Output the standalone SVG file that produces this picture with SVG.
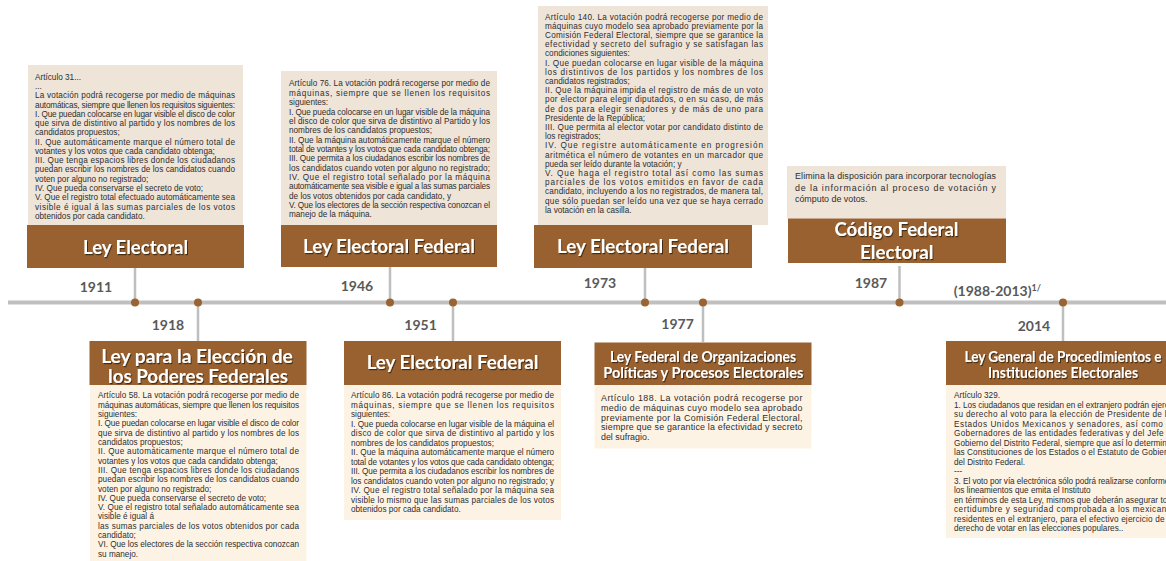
<svg xmlns="http://www.w3.org/2000/svg" width="1166" height="561" viewBox="0 0 1166 561">
  <defs>
    <filter id="ts" x="-10%" y="-40%" width="120%" height="180%">
      <feDropShadow dx="1" dy="1.2" stdDeviation="0.7" flood-color="#000" flood-opacity="0.55"/>
    </filter>
    <style>
      .pt { fill: #eee4d8; }
      .pb { fill: #fdf3e4; }
      .bar { fill: #98612f; }
      .title { font-family: Lato, "Open Sans", sans-serif; font-weight: 700; fill: #ffffff; text-anchor: middle; filter: url(#ts); }
      .year { font-family: Lato, "Open Sans", sans-serif; font-weight: 700; font-size: 14px; fill: #595959; text-anchor: middle; }
      .body { font-family: "Liberation Sans", Arial, sans-serif; font-size: 8.2px; fill: #2e2e2e; }
      .big { font-size: 8.9px; }
      .axis { stroke: #bfbfbf; stroke-width: 4; }
      .stem { stroke: #bfbfbf; stroke-width: 2.5; }
      .dot { fill: #9a6333; }
    </style>
  </defs>

  <rect width="1166" height="561" fill="#ffffff"/>

  <!-- timeline axis, stems and markers -->
  <g id="connectors">
    <line class="axis" x1="8" y1="302.5" x2="1166" y2="302.5"/>
    <line class="stem" x1="135" y1="268" x2="135" y2="302"/>
    <line class="stem" x1="198" y1="302" x2="198" y2="341"/>
    <line class="stem" x1="390" y1="267" x2="390" y2="302"/>
    <line class="stem" x1="453" y1="302" x2="453" y2="341"/>
    <line class="stem" x1="645" y1="268" x2="645" y2="302"/>
    <line class="stem" x1="703" y1="302" x2="703" y2="342"/>
    <line class="stem" x1="899.5" y1="266" x2="899.5" y2="302"/>
    <line class="stem" x1="1063" y1="302" x2="1063" y2="341"/>
    <circle class="dot" cx="135" cy="302.5" r="4"/>
    <circle class="dot" cx="198" cy="302.5" r="4"/>
    <circle class="dot" cx="390" cy="302.5" r="4"/>
    <circle class="dot" cx="453" cy="302.5" r="4"/>
    <circle class="dot" cx="645" cy="302.5" r="4"/>
    <circle class="dot" cx="703" cy="302.5" r="4"/>
    <circle class="dot" cx="899.5" cy="302.5" r="4"/>
    <circle class="dot" cx="1063" cy="302.5" r="4"/>
  </g>

  <!-- 1911 -->
  <g id="n1911">
    <rect class="pt" x="28" y="65" width="215" height="160"/>
    <rect class="bar" x="27" y="225" width="217" height="43"/>
    <text class="title" x="135.5" y="253.5" font-size="18" textLength="105" lengthAdjust="spacingAndGlyphs">Ley Electoral</text>
    <text class="year" x="96" y="291.5">1911</text>
    <text class="body" x="35" y="79.7">Artículo 31...</text>
    <text class="body" x="35" y="89">...</text>
    <text class="body" x="35" y="98.2" textLength="200" lengthAdjust="spacing">La votación podrá recogerse por medio de máquinas</text>
    <text class="body" x="35" y="107.5" textLength="200" lengthAdjust="spacing">automáticas, siempre que llenen los requisitos siguientes:</text>
    <text class="body" x="35" y="116.8" textLength="200" lengthAdjust="spacing">I. Que puedan colocarse en lugar visible el disco de color</text>
    <text class="body" x="35" y="126.1" textLength="200" lengthAdjust="spacing">que sirva de distintivo al partido y los nombres de los</text>
    <text class="body" x="35" y="135.3">candidatos propuestos;</text>
    <text class="body" x="35" y="144.6" textLength="200" lengthAdjust="spacing">II. Que automáticamente marque el número total de</text>
    <text class="body" x="35" y="153.9">votantes y los votos que cada candidato obtenga;</text>
    <text class="body" x="35" y="163.1" textLength="200" lengthAdjust="spacing">III. Que tenga espacios libres donde los ciudadanos</text>
    <text class="body" x="35" y="172.4" textLength="200" lengthAdjust="spacing">puedan escribir los nombres de los candidatos cuando</text>
    <text class="body" x="35" y="181.7">voten por alguno no registrado;</text>
    <text class="body" x="35" y="190.9">IV. Que pueda conservarse el secreto de voto;</text>
    <text class="body" x="35" y="200.2" textLength="200" lengthAdjust="spacing">V. Que el registro total efectuado automáticamente sea</text>
    <text class="body" x="35" y="209.5" textLength="200" lengthAdjust="spacing">visible é igual á las sumas parciales de los votos</text>
    <text class="body" x="35" y="218.8">obtenidos por cada candidato.</text>
  </g>

  <!-- 1918 -->
  <g id="n1918">
    <rect class="bar" x="89.5" y="341" width="217" height="44"/>
    <rect class="pb" x="90" y="385" width="216.5" height="176"/>
    <text class="title" x="197" y="363" font-size="18" textLength="191.7" lengthAdjust="spacingAndGlyphs">Ley para la Elección de</text>
    <text class="title" x="198" y="383" font-size="18" textLength="180" lengthAdjust="spacingAndGlyphs">los Poderes Federales</text>
    <text class="year" x="168" y="330">1918</text>
    <text class="body" x="98" y="398.4" textLength="201" lengthAdjust="spacing">Artículo 58. La votación podrá recogerse por medio de</text>
    <text class="body" x="98" y="407.7" textLength="201" lengthAdjust="spacing">máquinas automáticas, siempre que llenen los requisitos</text>
    <text class="body" x="98" y="417">siguientes:</text>
    <text class="body" x="98" y="426.3" textLength="201" lengthAdjust="spacing">I. Que puedan colocarse en lugar visible el disco de color</text>
    <text class="body" x="98" y="435.6" textLength="201" lengthAdjust="spacing">que sirva de distintivo al partido y los nombres de los</text>
    <text class="body" x="98" y="444.9">candidatos propuestos;</text>
    <text class="body" x="98" y="454.3" textLength="201" lengthAdjust="spacing">II. Que automáticamente marque el número total de</text>
    <text class="body" x="98" y="463.6">votantes y los votos que cada candidato obtenga;</text>
    <text class="body" x="98" y="472.9" textLength="201" lengthAdjust="spacing">III. Que tenga espacios libres donde los ciudadanos</text>
    <text class="body" x="98" y="482.2" textLength="201" lengthAdjust="spacing">puedan escribir los nombres de los candidatos cuando</text>
    <text class="body" x="98" y="491.5">voten por alguno no registrado;</text>
    <text class="body" x="98" y="500.8">IV. Que pueda conservarse el secreto de voto;</text>
    <text class="body" x="98" y="510.1" textLength="201" lengthAdjust="spacing">V. Que el registro total señalado automáticamente sea</text>
    <text class="body" x="98" y="519.4">visible é igual á</text>
    <text class="body" x="98" y="528.7" textLength="201" lengthAdjust="spacing">las sumas parciales de los votos obtenidos por cada</text>
    <text class="body" x="98" y="538">candidato;</text>
    <text class="body" x="98" y="547.4" textLength="201" lengthAdjust="spacing">VI. Que los electores de la sección respectiva conozcan</text>
    <text class="body" x="98" y="556.7">su manejo.</text>
  </g>

  <!-- 1946 -->
  <g id="n1946">
    <rect class="pt" x="281" y="71" width="216" height="154"/>
    <rect class="bar" x="281" y="225" width="216" height="42"/>
    <text class="title" x="389" y="252.7" font-size="18" textLength="172" lengthAdjust="spacingAndGlyphs">Ley Electoral Federal</text>
    <text class="year" x="357" y="290.7">1946</text>
    <text class="body" x="289" y="86.4" textLength="201" lengthAdjust="spacing">Artículo 76. La votación podrá recogerse por medio de</text>
    <text class="body" x="289" y="95.8" textLength="201" lengthAdjust="spacing">máquinas, siempre que se llenen los requisitos</text>
    <text class="body" x="289" y="105.1">siguientes:</text>
    <text class="body" x="289" y="114.5" textLength="201" lengthAdjust="spacing">I. Que pueda colocarse en un lugar visible de la máquina</text>
    <text class="body" x="289" y="123.8" textLength="201" lengthAdjust="spacing">el disco de color que sirva de distintivo al Partido y los</text>
    <text class="body" x="289" y="133.2">nombres de los candidatos propuestos;</text>
    <text class="body" x="289" y="142.6" textLength="201" lengthAdjust="spacing">II. Que la máquina automáticamente marque el número</text>
    <text class="body" x="289" y="151.9" textLength="201" lengthAdjust="spacing">total de votantes y los votos que cada candidato obtenga;</text>
    <text class="body" x="289" y="161.3" textLength="201" lengthAdjust="spacing">III. Que permita a los ciudadanos escribir los nombres de</text>
    <text class="body" x="289" y="170.6" textLength="201" lengthAdjust="spacing">los candidatos cuando voten por alguno no registrado;</text>
    <text class="body" x="289" y="180" textLength="201" lengthAdjust="spacing">IV. Que el registro total señalado por la máquina</text>
    <text class="body" x="289" y="189.4" textLength="201" lengthAdjust="spacing">automáticamente sea visible e igual a las sumas parciales</text>
    <text class="body" x="289" y="198.7">de los votos obtenidos por cada candidato, y</text>
    <text class="body" x="289" y="208.1" textLength="201" lengthAdjust="spacing">V. Que los electores de la sección respectiva conozcan el</text>
    <text class="body" x="289" y="217.4">manejo de la máquina.</text>
  </g>

  <!-- 1951 -->
  <g id="n1951">
    <rect class="bar" x="344" y="341" width="217" height="44"/>
    <rect class="pb" x="344" y="385" width="217" height="135"/>
    <text class="title" x="452.5" y="369.3" font-size="18" textLength="171.7" lengthAdjust="spacingAndGlyphs">Ley Electoral Federal</text>
    <text class="year" x="420.6" y="330">1951</text>
    <text class="body" x="351" y="398" textLength="203" lengthAdjust="spacing">Artículo 86. La votación podrá recogerse por medio de</text>
    <text class="body" x="351" y="407.5" textLength="203" lengthAdjust="spacing">máquinas, siempre que se llenen los requisitos</text>
    <text class="body" x="351" y="417.1">siguientes:</text>
    <text class="body" x="351" y="426.6" textLength="203" lengthAdjust="spacing">I. Que pueda colocarse en lugar visible de la máquina el</text>
    <text class="body" x="351" y="436.1" textLength="203" lengthAdjust="spacing">disco de color que sirva de distintivo al partido y los</text>
    <text class="body" x="351" y="445.7">nombres de los candidatos propuestos;</text>
    <text class="body" x="351" y="455.2" textLength="203" lengthAdjust="spacing">II. Que la máquina automáticamente marque el número</text>
    <text class="body" x="351" y="464.7" textLength="203" lengthAdjust="spacing">total de votantes y los votos que cada candidato obtenga;</text>
    <text class="body" x="351" y="474.2" textLength="203" lengthAdjust="spacing">III. Que permita a los ciudadanos escribir los nombres de</text>
    <text class="body" x="351" y="483.8" textLength="203" lengthAdjust="spacing">los candidatos cuando voten por alguno no registrado; y</text>
    <text class="body" x="351" y="493.3" textLength="203" lengthAdjust="spacing">IV. Que el registro total señalado por la máquina sea</text>
    <text class="body" x="351" y="502.8" textLength="203" lengthAdjust="spacing">visible lo mismo que las sumas parciales de los votos</text>
    <text class="body" x="351" y="512.4">obtenidos por cada candidato.</text>
  </g>

  <!-- 1973 -->
  <g id="n1973">
    <rect class="pt" x="538" y="6" width="230" height="219"/>
    <rect class="bar" x="534" y="225" width="218" height="43"/>
    <text class="title" x="643" y="252.5" font-size="18" textLength="172" lengthAdjust="spacingAndGlyphs">Ley Electoral Federal</text>
    <text class="year" x="600" y="288">1973</text>
    <text class="body" x="545" y="19.5" textLength="218" lengthAdjust="spacing">Artículo 140. La votación podrá recogerse por medio de</text>
    <text class="body" x="545" y="28.7" textLength="218" lengthAdjust="spacing">máquinas cuyo modelo sea aprobado previamente por la</text>
    <text class="body" x="545" y="37.9" textLength="218" lengthAdjust="spacing">Comisión Federal Electoral, siempre que se garantice la</text>
    <text class="body" x="545" y="47.1" textLength="218" lengthAdjust="spacing">efectividad y secreto del sufragio y se satisfagan las</text>
    <text class="body" x="545" y="56.3">condiciones siguientes:</text>
    <text class="body" x="545" y="65.5" textLength="218" lengthAdjust="spacing">I. Que puedan colocarse en lugar visible de la máquina</text>
    <text class="body" x="545" y="74.7" textLength="218" lengthAdjust="spacing">los distintivos de los partidos y los nombres de los</text>
    <text class="body" x="545" y="83.9">candidatos registrados;</text>
    <text class="body" x="545" y="93.1" textLength="218" lengthAdjust="spacing">II. Que la máquina impida el registro de más de un voto</text>
    <text class="body" x="545" y="102.3" textLength="218" lengthAdjust="spacing">por elector para elegir diputados, o en su caso, de más</text>
    <text class="body" x="545" y="111.5" textLength="218" lengthAdjust="spacing">de dos para elegir senadores y de más de uno para</text>
    <text class="body" x="545" y="120.7">Presidente de la República;</text>
    <text class="body" x="545" y="129.9" textLength="218" lengthAdjust="spacing">III. Que permita al elector votar por candidato distinto de</text>
    <text class="body" x="545" y="139.1">los registrados;</text>
    <text class="body" x="545" y="148.3" textLength="218" lengthAdjust="spacing">IV. Que registre automáticamente en progresión</text>
    <text class="body" x="545" y="157.5" textLength="218" lengthAdjust="spacing">aritmética el número de votantes en un marcador que</text>
    <text class="body" x="545" y="166.7">pueda ser leído durante la votación; y</text>
    <text class="body" x="545" y="175.9" textLength="218" lengthAdjust="spacing">V. Que haga el registro total así como las sumas</text>
    <text class="body" x="545" y="185.1" textLength="218" lengthAdjust="spacing">parciales de los votos emitidos en favor de cada</text>
    <text class="body" x="545" y="194.3" textLength="218" lengthAdjust="spacing">candidato, incluyendo a los no registrados, de manera tal,</text>
    <text class="body" x="545" y="203.5" textLength="218" lengthAdjust="spacing">que sólo puedan ser leído una vez que se haya cerrado</text>
    <text class="body" x="545" y="212.7">la votación en la casilla.</text>
  </g>

  <!-- 1977 -->
  <g id="n1977">
    <rect class="bar" x="594.5" y="342.5" width="217" height="42.5"/>
    <rect class="pb" x="594.5" y="385" width="217" height="63.5"/>
    <text class="title" x="703" y="361.7" font-size="14.5" textLength="186" lengthAdjust="spacingAndGlyphs">Ley Federal de Organizaciones</text>
    <text class="title" x="703.3" y="378.3" font-size="14.5" textLength="200" lengthAdjust="spacingAndGlyphs">Políticas y Procesos Electorales</text>
    <text class="year" x="677.6" y="329.3">1977</text>
    <text class="body big" x="601" y="400.7" textLength="201.5" lengthAdjust="spacing">Artículo 188. La votación podrá recogerse por</text>
    <text class="body big" x="601" y="410.6" textLength="201.5" lengthAdjust="spacing">medio de máquinas cuyo modelo sea aprobado</text>
    <text class="body big" x="601" y="420.5" textLength="201.5" lengthAdjust="spacing">previamente por la Comisión Federal Electoral,</text>
    <text class="body big" x="601" y="430.4" textLength="201.5" lengthAdjust="spacing">siempre que se garantice la efectividad y secreto</text>
    <text class="body big" x="601" y="440.3">del sufragio.</text>
  </g>

  <!-- 1987 -->
  <g id="n1987">
    <rect class="pt" x="787" y="166" width="219" height="52.5"/>
    <rect class="bar" x="788" y="218.5" width="218" height="44.5"/>
    <text class="title" x="896.5" y="236" font-size="18" textLength="124" lengthAdjust="spacingAndGlyphs">Código Federal</text>
    <text class="title" x="896.7" y="259.3" font-size="18" textLength="73.3" lengthAdjust="spacingAndGlyphs">Electoral</text>
    <text class="year" x="871" y="288.3">1987</text>
    <text class="body big" x="795" y="179" textLength="201" lengthAdjust="spacing">Elimina la disposición para incorporar tecnologías</text>
    <text class="body big" x="795" y="190.6" textLength="201" lengthAdjust="spacing">de la información al proceso de votación y</text>
    <text class="body big" x="795" y="202.3">cómputo de votos.</text>
  </g>

  <!-- 1988-2013 span label -->
  <g id="n1988">
    <text class="year" x="953.7" y="296" style="text-anchor:start">(1988-2013)<tspan font-size="9" dy="-5">1/</tspan></text>
  </g>

  <!-- 2014 -->
  <g id="n2014">
    <rect class="bar" x="946" y="341" width="234" height="44"/>
    <rect class="pb" x="946" y="385" width="234" height="153"/>
    <text class="title" x="1063" y="362.3" font-size="14.5" textLength="197" lengthAdjust="spacingAndGlyphs">Ley General de Procedimientos e</text>
    <text class="title" x="1063" y="378" font-size="14.5" textLength="150" lengthAdjust="spacingAndGlyphs">Instituciones Electorales</text>
    <text class="year" x="1034" y="330.7">2014</text>
    <text class="body" x="954" y="398">Artículo 329.</text>
    <text class="body" x="954" y="407.5" textLength="222" lengthAdjust="spacing">1. Los ciudadanos que residan en el extranjero podrán ejercer</text>
    <text class="body" x="954" y="417.1" textLength="222" lengthAdjust="spacing">su derecho al voto para la elección de Presidente de los</text>
    <text class="body" x="954" y="426.6" textLength="222" lengthAdjust="spacing">Estados Unidos Mexicanos y senadores, así como de</text>
    <text class="body" x="954" y="436.1" textLength="222" lengthAdjust="spacing">Gobernadores de las entidades federativas y del Jefe de</text>
    <text class="body" x="954" y="445.7" textLength="222" lengthAdjust="spacing">Gobierno del Distrito Federal, siempre que así lo determinen</text>
    <text class="body" x="954" y="455.2" textLength="222" lengthAdjust="spacing">las Constituciones de los Estados o el Estatuto de Gobierno</text>
    <text class="body" x="954" y="464.7">del Distrito Federal.</text>
    <text class="body" x="954" y="474.2">---</text>
    <text class="body" x="954" y="483.8" textLength="222" lengthAdjust="spacing">3. El voto por vía electrónica sólo podrá realizarse conforme a</text>
    <text class="body" x="954" y="493.3">los lineamientos que emita el Instituto</text>
    <text class="body" x="954" y="502.8" textLength="222" lengthAdjust="spacing">en términos de esta Ley, mismos que deberán asegurar total</text>
    <text class="body" x="954" y="512.4" textLength="222" lengthAdjust="spacing">certidumbre y seguridad comprobada a los mexicanos</text>
    <text class="body" x="954" y="521.9" textLength="222" lengthAdjust="spacing">residentes en el extranjero, para el efectivo ejercicio de su</text>
    <text class="body" x="954" y="531.4">derecho de votar en las elecciones populares..</text>
  </g>
</svg>
